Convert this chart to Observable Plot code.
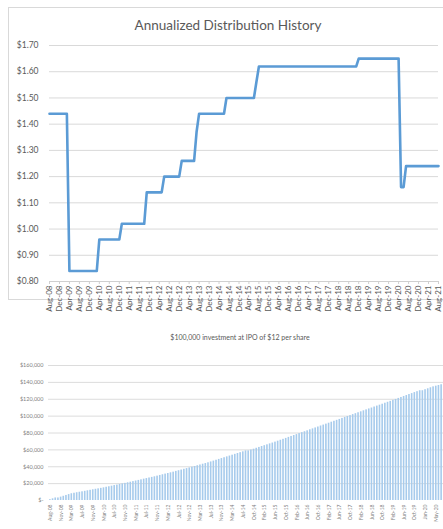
<!DOCTYPE html>
<html><head><meta charset="utf-8">
<script src="https://cdn.jsdelivr.net/npm/d3@7"></script>
<script src="https://cdn.jsdelivr.net/npm/@observablehq/plot@0.6"></script>
<style>
body{margin:0;background:#fff;width:443px;height:529px;overflow:hidden;position:relative;font-family:Lato,"Open Sans",sans-serif;}
#frame{position:absolute;left:8px;top:7px;width:450px;height:293px;border:1px solid #d9d9d9;box-sizing:border-box;}
#t1{position:absolute;left:8px;width:440px;top:17px;text-align:center;font-size:13.5px;color:#595959;}
#c1{position:absolute;left:0;top:0;}
#t2{position:absolute;left:0;width:480px;top:333px;text-align:center;font-size:7px;color:#595959;}
#c2{position:absolute;left:0;top:350px;}
</style></head><body>
<div id="frame"></div>
<div id="c1"></div>
<div id="t1">Annualized Distribution History</div>
<div id="t2">$100,000 investment at IPO of $12 per share</div>
<div id="c2"></div>
<script>
// ---- Top chart: annualized distribution (breakpoints of the monthly series) ----
const distDates = ["2008-08","2009-03","2009-04","2010-03","2010-04","2010-12","2011-01","2011-10","2011-11","2012-05","2012-06","2012-12","2013-01","2013-06","2013-07","2013-08","2014-06","2014-07","2015-06","2015-07","2015-08","2018-11","2018-12","2020-04","2020-05","2020-06","2020-07","2021-08"];
const distValues = [1.44,1.44,0.84,0.84,0.96,0.96,1.02,1.02,1.14,1.14,1.20,1.20,1.26,1.26,1.37,1.44,1.44,1.50,1.50,1.56,1.62,1.62,1.65,1.65,1.16,1.16,1.24,1.24];
const distYTicks = [0.8,0.9,1.0,1.1,1.2,1.3,1.4,1.5,1.6,1.7];
const distXStart = "2008-08", distXEnd = "2021-08";

// ---- Bottom chart: value of $100,000 investment (one bar per period) ----
const investValues = [1000,2000,3000,3000,4000,5000,6000,7000,8000,8600,9200,9800,10300,10900,11500,12100,12700,13300,13800,14400,15000,15700,16300,17000,17700,18300,19000,19700,20300,21000,21700,22400,23100,23800,24500,25300,26000,26700,27400,28100,28900,29700,30500,31300,32000,32800,33600,34500,35300,36100,37000,37800,38600,39500,40300,41200,42100,43000,43800,44700,45700,46700,47700,48700,49700,50700,51700,52700,53700,54700,55700,56700,57700,58800,58800,59800,60800,61900,62900,64000,65000,66000,67100,68100,69200,70300,71400,72500,73600,74800,75900,77000,78100,79300,80400,81500,82600,83800,84900,86000,87100,88300,89400,90500,91600,92800,93900,95000,96100,97300,98400,99500,100600,101800,102900,104000,105100,106300,107400,108500,109600,110800,111900,113000,114100,115300,116400,117500,118700,119800,121000,122100,123300,124400,125600,126700,127900,129000,130100,130100,131300,132400,133600,134700,135500,136300,137200];
const investTickLabels = ["Aug-08","Nov-08","Mar-09","Jul-09","Nov-09","Mar-10","Jul-10","Nov-10","Mar-11","Jul-11","Nov-11","Mar-12","Jul-12","Nov-12","Mar-13","Jul-13","Nov-13","Mar-14","Jul-14","Oct-14","Feb-15","Jun-15","Oct-15","Feb-16","Jun-16","Oct-16","Feb-17","Jun-17","Oct-17","Feb-18","Jun-18","Oct-18","Feb-19","Jun-19","Oct-19","Jan-20","May-20"];
const investYTicks = [0,20000,40000,60000,80000,100000,120000,140000,160000];

const parseM = d3.utcParse("%Y-%m");
const distData = distDates.map((d,i)=>({date:parseM(d), value:distValues[i]}));
const xStart = parseM(distXStart), xEnd = parseM(distXEnd);
const xTicks = d3.utcMonth.range(xStart, d3.utcMonth.offset(xEnd,1), 4);

const topChart = Plot.plot({
  width: 443, height: 305,
  marginLeft: 49, marginRight: 5, marginTop: 45, marginBottom: 24,
  style: {fontFamily: "Lato, 'Open Sans', sans-serif", color: "#595959", background: "transparent", overflow: "visible"},
  x: {type: "utc", domain: [xStart, xEnd], label: null},
  y: {domain: [0.8, 1.7], label: null},
  marks: [
    Plot.gridY(distYTicks.slice(1), {stroke: "#d9d9d9", strokeOpacity: 1}),
    Plot.ruleY([0.8], {stroke: "#d0d0d0"}),
    Plot.axisY(distYTicks, {tickSize: 0, tickPadding: 11, fontSize: 8.5, label: null, tickFormat: d => "$" + d.toFixed(2)}),
    Plot.axisX(xTicks, {tickRotate: -90, tickSize: 3, tickPadding: 1, stroke: "#d0d0d0", fontSize: 8, label: null, tickFormat: d3.utcFormat("%b-%y")}),
    Plot.line(distData, {x: "date", y: "value", stroke: "#5b9bd5", strokeWidth: 2.6})
  ]
});
document.getElementById("c1").appendChild(topChart);

const N = investValues.length;
const bottomChart = Plot.plot({
  width: 443, height: 179,
  marginLeft: 48, marginRight: 0, marginTop: 15, marginBottom: 29,
  style: {fontFamily: "Lato, 'Open Sans', sans-serif", color: "#7f7f7f", background: "transparent"},
  x: {type: "band", domain: d3.range(N), padding: 0.4, label: null},
  y: {domain: [0, 160000], label: null},
  marks: [
    Plot.gridY(investYTicks.slice(1), {stroke: "#dcdcdc", strokeOpacity: 1}),
    Plot.barY(investValues, {x: (d,i) => i, y: d => d, fill: "#a7cbec"}),
    Plot.axisY(investYTicks, {tickSize: 0, tickPadding: 5, fontSize: 5.5, label: null, tickFormat: d => d === 0 ? "$-" : d3.format("$,")(d)}),
    Plot.axisX(d3.range(0, N, 4), {tickRotate: -90, tickSize: 0, tickPadding: 4, fontSize: 5, label: null, tickFormat: i => investTickLabels[i/4]})
  ]
});
document.getElementById("c2").appendChild(bottomChart);
</script>
</body></html>
